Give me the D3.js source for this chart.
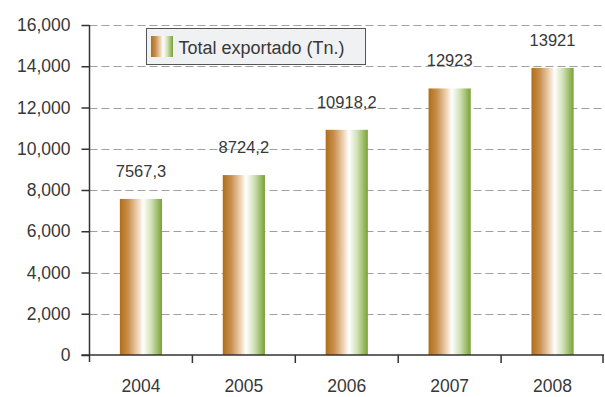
<!DOCTYPE html>
<html>
<head>
<meta charset="utf-8">
<script src="https://cdn.jsdelivr.net/npm/d3@7"></script>
<style>
  html, body { margin: 0; padding: 0; background: #fff; }
  svg { display: block; }
  text { font-family: "Liberation Sans", Arial, sans-serif; fill: #383838; }
</style>
</head>
<body>
<svg id="chart" width="605" height="397"></svg>
<script>
// Exports per year (tonnes)
const years = ["2004", "2005", "2006", "2007", "2008"];
const exported = [7567.3, 8724.2, 10918.2, 12923, 13921];
const valueLabels = ["7567,3", "8724,2", "10918,2", "12923", "13921"];
const yTicks = [0, 2000, 4000, 6000, 8000, 10000, 12000, 14000, 16000];
const seriesName = "Total exportado (Tn.)";

const svg = d3.select("#chart");
const margin = { left: 89.5, right: 1, top: 25, bottom: 42 };
const W = 605, H = 397;

const x = d3.scaleBand().domain(years).range([margin.left, W - margin.right]).paddingInner(0.59).paddingOuter(0.295);
const y = d3.scaleLinear().domain([0, 16000]).range([H - margin.bottom, margin.top]);

// bar fill gradient: orange -> white -> green
const defs = svg.append("defs");
const grad = defs.append("linearGradient").attr("id", "barGrad").attr("x1", "0").attr("x2", "1").attr("y1", "0").attr("y2", "0");
[[0, "#b06e17"], [0.2, "#c98f4e"], [0.45, "#f2dcc3"], [0.55, "#ffffff"], [0.75, "#cfe0b4"], [1, "#78a234"]]
  .forEach(([o, c]) => grad.append("stop").attr("offset", o).attr("stop-color", c));

// dashed gridlines
svg.append("g").selectAll("line").data(yTicks.filter(d => d > 0)).join("line")
  .attr("x1", margin.left).attr("x2", W)
  .attr("y1", d => Math.round(y(d)) + 0.5).attr("y2", d => Math.round(y(d)) + 0.5)
  .attr("stroke", "#a0a0a0").attr("stroke-width", 1.2).attr("stroke-dasharray", "8,4");

// bars
svg.append("g").selectAll("rect").data(years).join("rect")
  .attr("x", d => x(d)).attr("width", x.bandwidth())
  .attr("y", (d, i) => y(exported[i])).attr("height", (d, i) => y(0) - y(exported[i]))
  .attr("fill", "url(#barGrad)");

// value labels
svg.append("g").selectAll("text").data(years).join("text")
  .attr("x", d => x(d) + x.bandwidth() / 2)
  .attr("y", (d, i) => y(exported[i]) - 22)
  .attr("text-anchor", "middle").attr("font-size", 16.5)
  .text((d, i) => valueLabels[i]);

// y axis
const yAxis = d3.axisLeft(y).tickValues(yTicks).tickSize(8).tickPadding(11)
  .tickFormat(d3.format(","));
const gy = svg.append("g").attr("transform", `translate(${margin.left},0)`).call(yAxis);
gy.select(".domain").remove();
gy.selectAll(".tick line").attr("stroke", "#333").attr("stroke-width", 1.5);
gy.selectAll(".tick text").attr("font-size", 17.5).attr("fill", "#383838")
  .style("font-family", "'Liberation Sans', Arial, sans-serif");
gy.append("line").attr("x1", 0).attr("x2", 0).attr("y1", margin.top).attr("y2", y(0) + 7)
  .attr("stroke", "#333").attr("stroke-width", 1.5);

// x axis
const gx = svg.append("g").attr("transform", `translate(0,${y(0)})`);
gx.append("line").attr("x1", margin.left - 8).attr("x2", W - margin.right)
  .attr("stroke", "#333").attr("stroke-width", 1.5);
const step = x.step();
const bounds = years.map((d, i) => margin.left + step * (i + 1));
gx.selectAll("line.tk").data(bounds).join("line").attr("class", "tk")
  .attr("x1", d => Math.min(d, W - 2)).attr("x2", d => Math.min(d, W - 2)).attr("y1", 0).attr("y2", 8)
  .attr("stroke", "#333").attr("stroke-width", 1.5);
gx.selectAll("text").data(years).join("text")
  .attr("x", d => x(d) + x.bandwidth() / 2).attr("y", 37)
  .attr("text-anchor", "middle").attr("font-size", 17.5).text(d => d);

// legend
const lg = svg.append("g").attr("transform", "translate(146.5,28.5)");
lg.append("rect").attr("width", 219).attr("height", 36).attr("fill", "#f0f1f3")
  .attr("stroke", "#555").attr("stroke-width", 1);
lg.append("rect").attr("x", 4.5).attr("y", 7.5).attr("width", 22).attr("height", 21).attr("fill", "url(#barGrad)");
lg.append("text").attr("x", 32).attr("y", 25).attr("font-size", 18).text(seriesName);
</script>
</body>
</html>
